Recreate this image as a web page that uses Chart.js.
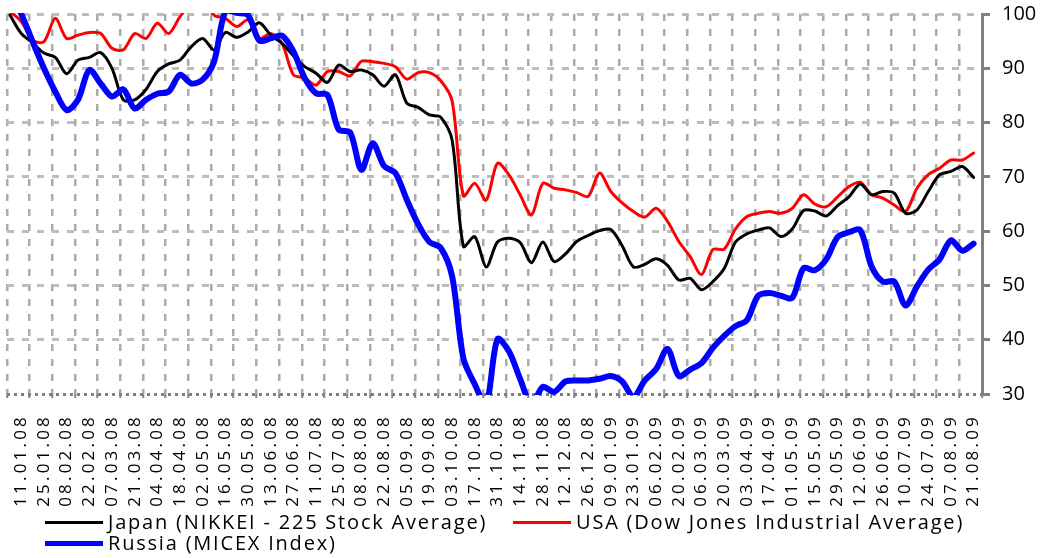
<!DOCTYPE html>
<html>
<head>
<meta charset="utf-8">
<title>Stock indices 2008-2009</title>
<script src="https://cdn.jsdelivr.net/npm/chart.js@4.4.3/dist/chart.umd.min.js"></script>
<style>
  html, body { margin: 0; padding: 0; background: #ffffff; }
  .frame { position: relative; width: 1040px; height: 558px; overflow: hidden; }
  .frame canvas { position: absolute; left: 0; top: 0; }
  .legend-item {
    position: absolute;
    display: flex;
    align-items: center;
    height: 20px;
    font-family: "Open Sans", sans-serif;
    font-size: 20px;
    line-height: 20px;
    letter-spacing: 1.8px;
    white-space: pre;
    color: #000000;
  }
  .legend-swatch { width: 58px; margin-right: 5px; flex: none; }
</style>
</head>
<body>
<div class="frame">
  <canvas id="indices-chart" width="1040" height="558"></canvas>
  <div id="indices-legend"></div>
</div>
<script>
// one label every two weeks
const dateLabels = [
  "11.01.08", "25.01.08", "08.02.08", "22.02.08", "07.03.08", "21.03.08",
  "04.04.08", "18.04.08", "02.05.08", "16.05.08", "30.05.08", "13.06.08",
  "27.06.08", "11.07.08", "25.07.08", "08.08.08", "22.08.08", "05.09.08",
  "19.09.08", "03.10.08", "17.10.08", "31.10.08", "14.11.08", "28.11.08",
  "12.12.08", "26.12.08", "09.01.09", "23.01.09", "06.02.09", "20.02.09",
  "06.03.09", "20.03.09", "03.04.09", "17.04.09", "01.05.09", "15.05.09",
  "29.05.09", "12.06.09", "26.06.09", "10.07.09", "24.07.09", "07.08.09",
  "21.08.09",
];

const seriesNames = [
  "Japan (NIKKEI - 225 Stock Average)",
  "USA (Dow Jones Industrial Average)",
  "Russia (MICEX Index)",
];

// weekly readings, the first one a week before 11.01.08
const japan = [
  99.8, 96.4, 94.7, 92.8, 92.0, 89.0, 91.5, 92.0, 92.9, 90.0,
  84.2, 84.2, 86.1, 89.4, 90.8, 91.5, 94.0, 95.5, 93.4, 96.6,
  95.7, 96.7, 98.4, 96.1, 94.6, 92.3, 90.3, 89.1, 87.4, 90.6,
  89.4, 89.7, 88.8, 86.7, 88.8, 83.6, 82.8, 81.4, 81.0, 76.8,
  57.2, 59.0, 53.4, 58.0, 58.7, 57.9, 54.2, 58.0, 54.4, 55.8,
  58.1, 59.2, 60.1, 60.3, 57.3, 53.4, 53.9, 54.9, 53.7, 51.0,
  51.3, 49.2, 50.7, 53.1, 58.0, 59.5, 60.2, 60.6, 59.0, 60.4,
  63.8, 63.7, 62.8, 64.7, 66.3, 68.7, 66.7, 67.3, 67.0, 63.3,
  63.9, 67.3, 70.4, 71.0, 71.9, 69.9,
];

const usa = [
  100.5, 98.6, 95.2, 94.9, 99.2, 95.5, 96.1, 96.6, 96.4, 93.7,
  93.4, 96.4, 95.5, 98.3, 96.4, 99.5, 102.0, 103.0, 99.8, 99.2,
  97.7, 98.9, 95.5, 96.4, 94.6, 88.8, 88.2, 86.9, 89.4, 89.4,
  88.6, 91.3, 91.2, 90.9, 90.3, 88.0, 89.2, 89.2, 87.7, 84.0,
  66.5, 68.8, 65.7, 72.5, 70.4, 66.7, 63.0, 68.8, 67.9, 67.6,
  67.1, 66.4, 70.7, 67.3, 65.2, 63.6, 62.6, 64.2, 61.8, 58.1,
  55.3, 52.0, 56.6, 56.7, 60.4, 62.7, 63.3, 63.6, 63.3, 64.2,
  66.7, 65.0, 64.5, 66.3, 68.2, 69.0, 66.7, 66.1, 64.8, 63.6,
  67.9, 70.4, 71.6, 73.1, 73.1, 74.4,
];

const russia = [
  104.0, 100.0, 94.9, 90.0, 85.7, 82.3, 84.2, 89.7, 87.2, 84.8,
  86.1, 82.6, 84.2, 85.3, 85.7, 88.8, 87.2, 87.9, 91.2, 100.5,
  100.2, 99.8, 95.1, 95.5, 96.0, 93.1, 88.2, 85.4, 85.1, 78.7,
  78.2, 71.3, 76.2, 72.0, 70.7, 65.8, 61.3, 58.0, 56.9, 51.7,
  36.5, 31.8, 28.0, 40.1, 37.9, 32.8, 28.0, 31.3, 30.4, 32.3,
  32.5, 32.5, 32.8, 33.3, 32.3, 29.5, 32.5, 34.6, 38.3, 33.3,
  34.5, 35.7, 38.5, 40.7, 42.5, 43.6, 48.1, 48.6, 48.1, 47.7,
  53.2, 52.8, 54.8, 58.9, 59.8, 60.2, 53.5, 50.7, 50.7, 46.3,
  49.8, 52.9, 54.8, 58.3, 56.4, 57.7,
];

const yTicks = [30, 40, 50, 60, 70, 80, 90, 100];

const fontFamily = '"Open Sans", sans-serif';
const axisGray = "#808080";
const xLabelSpacing = "3.2px";

// x is measured in label steps (two weeks); the grid sits a bit left of each label
const gridShift = 0.63;
const xMin = -gridShift;
const xMax = dateLabels.length - gridShift;

function toPoints(values) {
  return values.map((y, index) => ({ x: (index - 1) / 2, y }));
}

const spacedTickLabels = {
  id: "spacedTickLabels",
  beforeDraw(chart) {
    const scale = chart.scales.x;
    if (!scale || scale.$spaced) {
      return;
    }
    const drawLabels = scale.drawLabels;
    scale.drawLabels = function (area) {
      const ctx = this.ctx;
      ctx.save();
      ctx.letterSpacing = xLabelSpacing;
      drawLabels.call(this, area);
      ctx.restore();
    };
    scale.$spaced = true;
  },
};

// the 30 line doubles as the dotted x axis
const isBase = (ctx) => ctx.tick && ctx.tick.value === 30;

const canvas = document.getElementById("indices-chart");

const chart = new Chart(canvas, {
  type: "line",
  data: {
    datasets: [
      { label: seriesNames[0], data: toPoints(japan), borderColor: "#000000", borderWidth: 3, order: 1 },
      { label: seriesNames[1], data: toPoints(usa), borderColor: "#ff0000", borderWidth: 3, order: 2 },
      { label: seriesNames[2], data: toPoints(russia), borderColor: "#0000ff", borderWidth: 6, order: 0 },
    ],
  },
  options: {
    responsive: false,
    animation: false,
    layout: { padding: { left: 7, top: 14, right: 0, bottom: 0 } },
    elements: {
      point: { radius: 0 },
      line: { tension: 0.3, borderCapStyle: "round", borderJoinStyle: "round", fill: false },
    },
    datasets: { line: { clip: 1 } },
    plugins: {
      legend: { display: false },
      tooltip: { enabled: false },
    },
    scales: {
      x: {
        type: "linear",
        min: xMin,
        max: xMax,
        afterBuildTicks(scale) {
          const ticks = [];
          for (let m = 0; m <= dateLabels.length; m += 1) {
            ticks.push({ value: m - gridShift });
          }
          scale.ticks = ticks;
        },
        afterFit(scale) {
          scale.height = 164;
          scale.paddingLeft = 0;
          scale.paddingRight = 0;
        },
        ticks: {
          autoSkip: false,
          minRotation: 90,
          maxRotation: 90,
          labelOffset: 14.3,
          padding: 16,
          color: "#000000",
          font: { family: fontFamily, size: 17 },
          callback(value, index) {
            return dateLabels[index] ?? "";
          },
        },
        grid: {
          color: "#ababab",
          lineWidth: 2.5,
          tickLength: 4,
          tickColor: axisGray,
          tickWidth: 2,
          tickBorderDash: [],
        },
        border: { display: false, dash: [7, 8] },
      },
      y: {
        position: "right",
        min: 30,
        max: 100,
        afterBuildTicks(scale) {
          scale.ticks = yTicks.map((value) => ({ value }));
        },
        afterFit(scale) {
          scale.width = 58;
          scale.paddingTop = 0;
          scale.paddingBottom = 0;
        },
        ticks: {
          padding: 12,
          color: "#000000",
          font: { family: fontFamily, size: 20 },
        },
        grid: {
          color: (ctx) => (isBase(ctx) ? axisGray : "#bdbdbd"),
          lineWidth: 3,
          tickLength: 8,
          tickColor: axisGray,
          tickWidth: 3,
          tickBorderDash: [],
        },
        border: {
          display: true,
          color: axisGray,
          width: 3,
          dash: (ctx) => (isBase(ctx) ? [3, 4] : [7, 8]),
        },
      },
    },
  },
  plugins: [spacedTickLabels],
});

// legend below the plot: two columns, Russia wraps to a second row
const legendSlots = [
  { left: 45, top: 512 },
  { left: 513, top: 512 },
  { left: 45, top: 533 },
];
const legendSwatchWidths = [3, 3, 5];

const legendRoot = document.getElementById("indices-legend");
chart.data.datasets.forEach((dataset, index) => {
  const item = document.createElement("div");
  item.className = "legend-item";
  item.style.left = `${legendSlots[index].left}px`;
  item.style.top = `${legendSlots[index].top}px`;

  const swatch = document.createElement("span");
  swatch.className = "legend-swatch";
  swatch.style.height = `${legendSwatchWidths[index]}px`;
  swatch.style.background = dataset.borderColor;

  const text = document.createElement("span");
  text.textContent = dataset.label;

  item.append(swatch, text);
  legendRoot.append(item);
});
</script>
</body>
</html>
